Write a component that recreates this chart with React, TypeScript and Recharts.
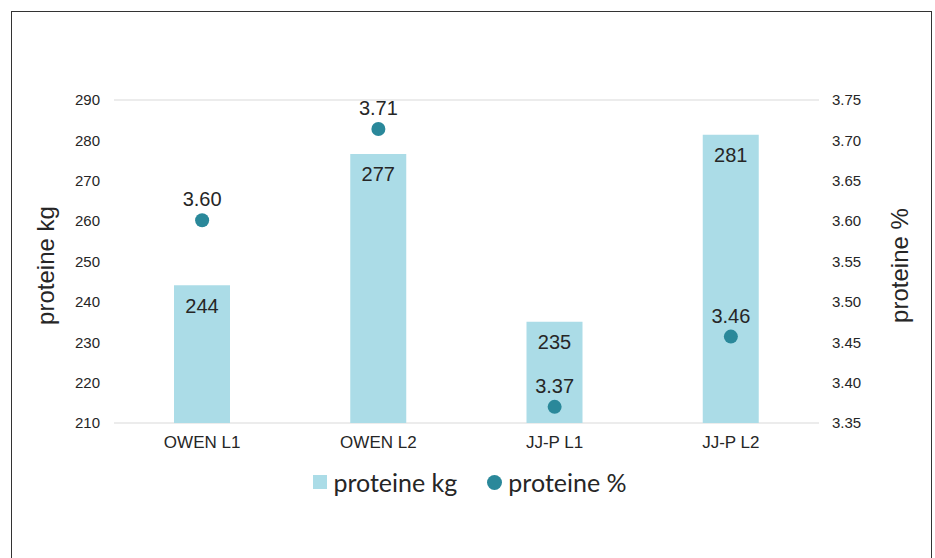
import { ComposedChart, Bar, Line, XAxis, YAxis, CartesianGrid, LabelList, Legend } from 'recharts';

const categories = ['OWEN L1', 'OWEN L2', 'JJ-P L1', 'JJ-P L2'];
const proteineKg = [244.1, 276.6, 235.1, 281.4];
const proteinePct = [3.601, 3.714, 3.37, 3.457];
const kgTicks = [210, 220, 230, 240, 250, 260, 270, 280, 290];
const pctTicks = [3.35, 3.4, 3.45, 3.5, 3.55, 3.6, 3.65, 3.7, 3.75];

const BAR = '#abdce7';
const DOT = '#2a889a';
const TEXT = '#262626';
const SANS = "'Liberation Sans', Arial, sans-serif";

const data = categories.map((name, i) => ({ name, kg: proteineKg[i], pct: proteinePct[i] }));

const AxisTitle = ({ viewBox, value, side }: any) => {
  const { x, y, width, height } = viewBox;
  const cx = side === 'left' ? x + width - 69 : x + 80;
  const cy = y + height / 2 + 4;
  return (
    <text
      x={cx}
      y={cy}
      transform={`rotate(-90 ${cx} ${cy})`}
      textAnchor="middle"
      dominantBaseline="central"
      fontSize={24}
      fontFamily={SANS}
      fill={TEXT}
    >
      {value}
    </text>
  );
};

const LegendContent = () => (
  <div style={{ display: 'flex', justifyContent: 'center', alignItems: 'center', fontFamily: 'Lato, sans-serif', fontSize: 25, color: TEXT }}>
    <span style={{ display: 'inline-block', width: 14, height: 14, background: BAR, marginRight: 6 }} />
    <span style={{ marginRight: 30 }}>proteine kg</span>
    <span style={{ display: 'inline-block', width: 15, height: 15, borderRadius: 8, background: DOT, marginRight: 6 }} />
    <span>proteine %</span>
  </div>
);

export default function App() {
  const tick = { fontSize: 15, fill: TEXT, fontFamily: SANS };
  return (
    <div style={{ position: 'absolute', left: 0, top: 0, width: 935, height: 558, overflow: 'hidden', background: '#fff' }}>
      <div style={{ position: 'absolute', left: 11, top: 11, width: 919, height: 600, border: '1.5px solid #333' }} />
      <div style={{ position: 'absolute', left: 0, top: 0 }}>
        <ComposedChart width={935} height={558} data={data} margin={{ top: 100, right: 56, bottom: 105, left: 54 }}>
          <CartesianGrid vertical={false} stroke="#d9d9d9" />
          <XAxis
            dataKey="name"
            axisLine={false}
            tickLine={false}
            tickSize={0}
            tickMargin={13}
            height={30}
            tick={{ ...tick, fontSize: 17 }}
          />
          <YAxis
            yAxisId="kg"
            domain={[210, 290]}
            ticks={kgTicks}
            axisLine={false}
            tickLine={false}
            tickSize={0}
            tickMargin={14}
            width={60}
            tick={tick}
            label={{ content: (p: any) => <AxisTitle {...p} value="proteine kg" side="left" /> }}
          />
          <YAxis
            yAxisId="pct"
            orientation="right"
            domain={[3.35, 3.75]}
            ticks={pctTicks}
            tickFormatter={(v: number) => v.toFixed(2)}
            axisLine={false}
            tickLine={false}
            tickSize={0}
            tickMargin={13}
            width={60}
            tick={tick}
            label={{ content: (p: any) => <AxisTitle {...p} value="proteine %" side="right" /> }}
          />
          <Bar yAxisId="kg" dataKey="kg" fill={BAR} barSize={56} isAnimationActive={false}>
            <LabelList
              dataKey="kg"
              position="insideTop"
              offset={13}
              fontSize={20}
              fill={TEXT}
              fontFamily={SANS}
              formatter={(v: any) => Math.round(Number(v))}
            />
          </Bar>
          <Line
            yAxisId="pct"
            dataKey="pct"
            stroke="none"
            strokeWidth={0}
            dot={{ r: 7, fill: DOT, stroke: 'none' }}
            activeDot={false}
            isAnimationActive={false}
          >
            <LabelList
              dataKey="pct"
              position="top"
              offset={14}
              fontSize={20}
              fill={TEXT}
              fontFamily={SANS}
              formatter={(v: any) => Number(v).toFixed(2)}
            />
          </Line>
          <Legend
            layout="horizontal"
            verticalAlign="middle"
            align="center"
            wrapperStyle={{ top: 467, left: 0, width: 940 }}
            content={<LegendContent />}
          />
        </ComposedChart>
      </div>
    </div>
  );
}
